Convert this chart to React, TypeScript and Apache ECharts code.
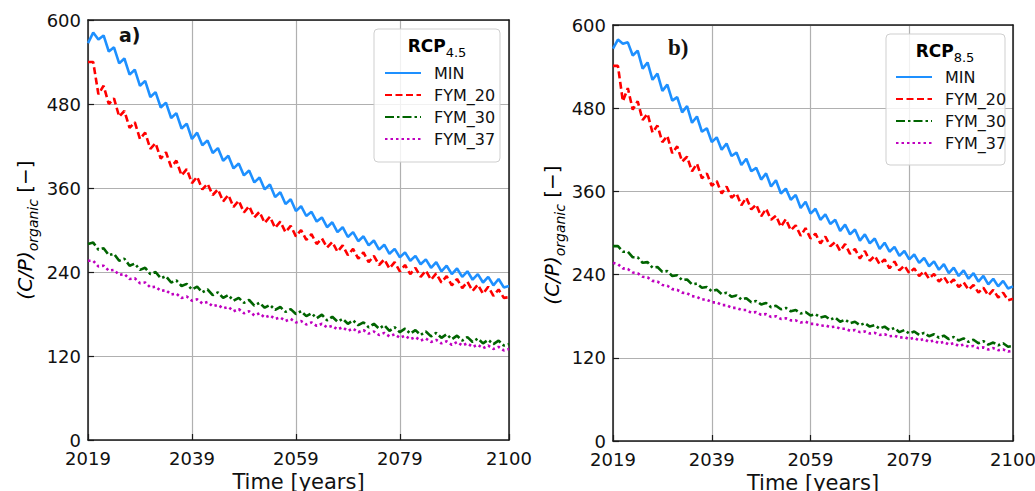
import React, { useEffect, useRef } from "react";
import * as echarts from "echarts";

const years: number[] = Array.from({ length: 82 }, (_, i) => 2019 + i);
const xTickValues = [2019, 2039, 2059, 2079, 2100];
const seriesNames = ["MIN", "FYM_20", "FYM_30", "FYM_37"];

// Panel a) RCP 4.5
const minA = [567,582,572,578,555,561,538,545,522,529,506,513,490,497,475,482,460,467,445,452,430,439,421,428,410,417,399,406,388,395,378,385,368,375,358,365,347,354,337,344,327,334,320,326,312,318,304,311,297,304,290,297,284,291,278,285,272,279,266,273,261,268,256,263,251,258,246,254,241,249,237,245,233,241,229,237,225,233,221,230,218,220];
const fym20A = [540,540,494,506,480,488,462,470,446,454,430,439,416,424,402,411,390,399,378,387,367,376,358,366,350,358,341,350,333,342,325,334,318,326,310,319,303,312,297,306,291,300,286,294,280,288,275,283,269,278,264,273,259,268,254,263,250,258,245,254,241,250,237,246,233,242,229,238,225,234,221,230,217,226,213,222,209,219,206,215,203,204];
const fym30A = [280,282,272,274,264,266,256,259,249,252,243,246,237,240,231,234,225,228,220,223,215,219,211,215,207,211,203,207,199,203,196,200,192,196,189,193,186,190,183,187,180,184,177,181,174,179,171,176,169,173,166,171,164,168,161,166,159,164,156,161,154,159,152,157,150,155,148,153,146,151,144,149,142,147,140,145,138,143,137,142,135,137];
const fym37A = [256,256,248,249,242,243,236,237,230,231,224,225,218,219,213,214,208,209,203,205,199,201,195,197,191,193,188,190,184,187,181,184,178,181,175,178,173,175,170,173,168,170,165,168,163,166,161,163,158,161,156,159,154,157,152,155,150,153,148,151,146,149,144,147,142,145,140,143,138,141,136,140,135,138,133,136,131,135,130,133,128,130];

// Panel b) RCP 8.5
const minB = [566,579,573,575,556,563,537,546,521,530,505,514,491,496,474,483,459,468,446,451,431,438,420,429,411,416,398,407,389,394,377,386,367,376,357,364,348,355,336,345,328,335,319,327,313,319,303,312,298,305,289,298,285,292,277,286,273,280,267,274,262,269,257,264,252,259,247,255,242,250,238,246,234,242,230,238,226,234,223,231,220,223];
const fym20B = [541,541,490,509,478,490,463,472,445,455,431,440,415,425,403,410,389,400,379,386,368,375,357,367,351,357,340,351,334,341,324,335,319,325,309,320,304,311,296,307,292,299,285,295,281,287,274,284,270,277,263,274,260,267,255,262,249,259,246,253,242,249,238,245,234,241,230,237,226,233,222,229,218,225,214,221,210,218,207,214,203,205];
const fym30B = [281,281,273,273,265,265,257,258,250,251,244,245,238,239,232,233,226,227,221,222,216,218,212,214,208,210,204,206,200,202,197,199,193,195,190,192,187,189,184,186,181,183,178,180,175,178,172,175,170,172,167,170,165,167,162,165,160,163,157,160,155,158,153,156,151,154,149,152,147,150,145,148,143,146,141,144,139,142,138,141,136,137];
const fym37B = [257,255,249,248,243,242,237,236,231,230,225,224,219,218,214,213,209,208,204,204,200,200,196,196,192,192,189,189,185,186,182,183,179,180,176,177,174,174,171,172,169,169,166,167,164,165,162,162,159,160,157,158,155,156,153,154,151,152,149,150,147,149,145,147,143,145,141,143,139,141,137,139,136,137,134,135,132,134,131,132,129,130];

const FONT = "DejaVu Sans";
const TXT = "#111";
const colors = ["#1E90FF", "#ff0000", "#006400", "#bf00bf"];
const lineTypes: any[] = ["solid", [7, 3.5], [9, 3, 2.5, 3], [2.5, 3]];

function pair(vals: number[]) {
  return years.map((y, i) => [y, vals[i]]);
}

export default function App() {
  const ref = useRef<HTMLDivElement>(null);
  useEffect(() => {
    if (!ref.current) return;
    const chart = echarts.init(ref.current, null, { renderer: "svg" });
    const grids = [
      { left: 88, top: 20, width: 421, height: 420 },
      { left: 613, top: 25, width: 400, height: 416 },
    ];
    const xAxes: any[] = [];
    const yAxes: any[] = [];
    grids.forEach((_, gi) => {
      xAxes.push({
        type: "value",
        gridIndex: gi,
        min: 2019,
        max: 2100,
        name: "Time [years]",
        nameLocation: "middle",
        nameGap: 29,
        nameTextStyle: { fontFamily: FONT, fontSize: 21, color: TXT },
        axisLine: { show: true, onZero: false, lineStyle: { color: "#1a1a1a", width: 1.5 } },
        axisTick: { show: true, inside: true, length: 6, customValues: xTickValues, lineStyle: { color: "#1a1a1a", width: 1.2 } },
        axisLabel: { customValues: xTickValues, fontFamily: FONT, fontSize: 18, color: TXT, margin: 9, formatter: (v: number) => String(v) },
        splitLine: { show: true, lineStyle: { color: "#b0b0b0", width: 1.2 } },
      });
      xAxes.push({
        type: "value",
        gridIndex: gi,
        position: "top",
        min: 2019,
        max: 2100,
        axisLine: { show: true, onZero: false, lineStyle: { color: "#1a1a1a", width: 1.5 } },
        axisTick: { show: false },
        axisLabel: { show: false },
        splitLine: { show: false },
      });
      yAxes.push({
        type: "value",
        gridIndex: gi,
        min: 0,
        max: 600,
        interval: 120,
        axisLine: { show: true, onZero: false, lineStyle: { color: "#1a1a1a", width: 1.5 } },
        axisTick: { show: true, inside: true, length: 6, lineStyle: { color: "#1a1a1a", width: 1.2 } },
        axisLabel: { fontFamily: FONT, fontSize: 18, color: TXT, margin: 7 },
        splitLine: { show: true, lineStyle: { color: "#b0b0b0", width: 1.2 } },
      });
      yAxes.push({
        type: "value",
        gridIndex: gi,
        position: "right",
        min: 0,
        max: 600,
        axisLine: { show: true, onZero: false, lineStyle: { color: "#1a1a1a", width: 1.5 } },
        axisTick: { show: false },
        axisLabel: { show: false },
        splitLine: { show: false },
      });
    });

    const panelData = [
      [minA, fym20A, fym30A, fym37A],
      [minB, fym20B, fym30B, fym37B],
    ];
    const series: any[] = [];
    panelData.forEach((set, gi) => {
      set.forEach((vals, si) => {
        series.push({
          type: "line",
          name: seriesNames[si],
          xAxisIndex: gi * 2,
          yAxisIndex: gi * 2,
          data: pair(vals),
          symbol: "none",
          z: 10 - si,
          lineStyle: { color: colors[si], width: 2.6, type: lineTypes[si] },
          itemStyle: { color: colors[si] },
        });
      });
    });

    const legendBase = {
      orient: "vertical",
      itemWidth: 36,
      itemHeight: 14,
      itemGap: 6,
      selectedMode: false,
      z: 6,
      itemStyle: { opacity: 0, borderWidth: 0 },
      textStyle: { fontFamily: FONT, fontSize: 16, color: TXT, padding: [0, 0, 0, 8] },
      data: seriesNames,
    };

    const titleRich = {
      b: { fontFamily: FONT, fontSize: 17, fontWeight: "bold", color: TXT, verticalAlign: "middle", lineHeight: 26 },
      s: { fontFamily: FONT, fontSize: 13, color: TXT, verticalAlign: "bottom", lineHeight: 12 },
    };
    const ylabRich = {
      i: { fontFamily: FONT, fontSize: 20, fontStyle: "italic", color: TXT, verticalAlign: "middle", lineHeight: 30 },
      s: { fontFamily: FONT, fontSize: 14, fontStyle: "italic", color: TXT, verticalAlign: "bottom", lineHeight: 12 },
      n: { fontFamily: FONT, fontSize: 20, color: TXT, verticalAlign: "middle", lineHeight: 30 },
    };

    const graphic: any[] = [
      { type: "rect", z: 5, shape: { x: 374, y: 29, width: 126, height: 133, r: 4 }, style: { fill: "rgba(255,255,255,0.82)", stroke: "#cfcfcf", lineWidth: 1 } },
      { type: "rect", z: 5, shape: { x: 886, y: 34, width: 119, height: 131, r: 4 }, style: { fill: "rgba(255,255,255,0.82)", stroke: "#cfcfcf", lineWidth: 1 } },
      { type: "text", z: 6, x: 437, y: 46, style: { text: "{b|RCP}{s|4.5}", rich: titleRich, textAlign: "center", textVerticalAlign: "middle" } },
      { type: "text", z: 6, x: 945, y: 51, style: { text: "{b|RCP}{s|8.5}", rich: titleRich, textAlign: "center", textVerticalAlign: "middle" } },
      { type: "text", z: 6, x: 119, y: 35, style: { text: "a)", fontFamily: FONT, fontSize: 19, fontWeight: "bold", fill: TXT, textVerticalAlign: "middle" } },
      { type: "text", z: 6, x: 668, y: 47, style: { text: "b)", fontFamily: "Liberation Serif", fontSize: 23, fontWeight: "bold", fill: TXT, textVerticalAlign: "middle" } },
      { type: "text", z: 6, x: 25, y: 230, rotation: Math.PI / 2, style: { text: "{i|(C/P)}{s|organic}{n| [\u2212]}", rich: ylabRich, textAlign: "center", textVerticalAlign: "middle" } },
      { type: "text", z: 6, x: 552, y: 235, rotation: Math.PI / 2, style: { text: "{i|(C/P)}{s|organic}{n| [\u2212]}", rich: ylabRich, textAlign: "center", textVerticalAlign: "middle" } },
    ];

    chart.setOption({
      animation: false,
      backgroundColor: "#ffffff",
      textStyle: { fontFamily: FONT },
      grid: grids.map((g) => ({ ...g, containLabel: false, outerBoundsMode: "none" })),
      xAxis: xAxes,
      yAxis: yAxes,
      legend: [
        { ...legendBase, left: 379, top: 60 },
        { ...legendBase, left: 890, top: 64 },
      ],
      series,
      graphic,
    });
    return () => chart.dispose();
  }, []);
  return <div ref={ref} style={{ position: "absolute", left: 0, top: 0, width: 1035, height: 491 }} />;
}
